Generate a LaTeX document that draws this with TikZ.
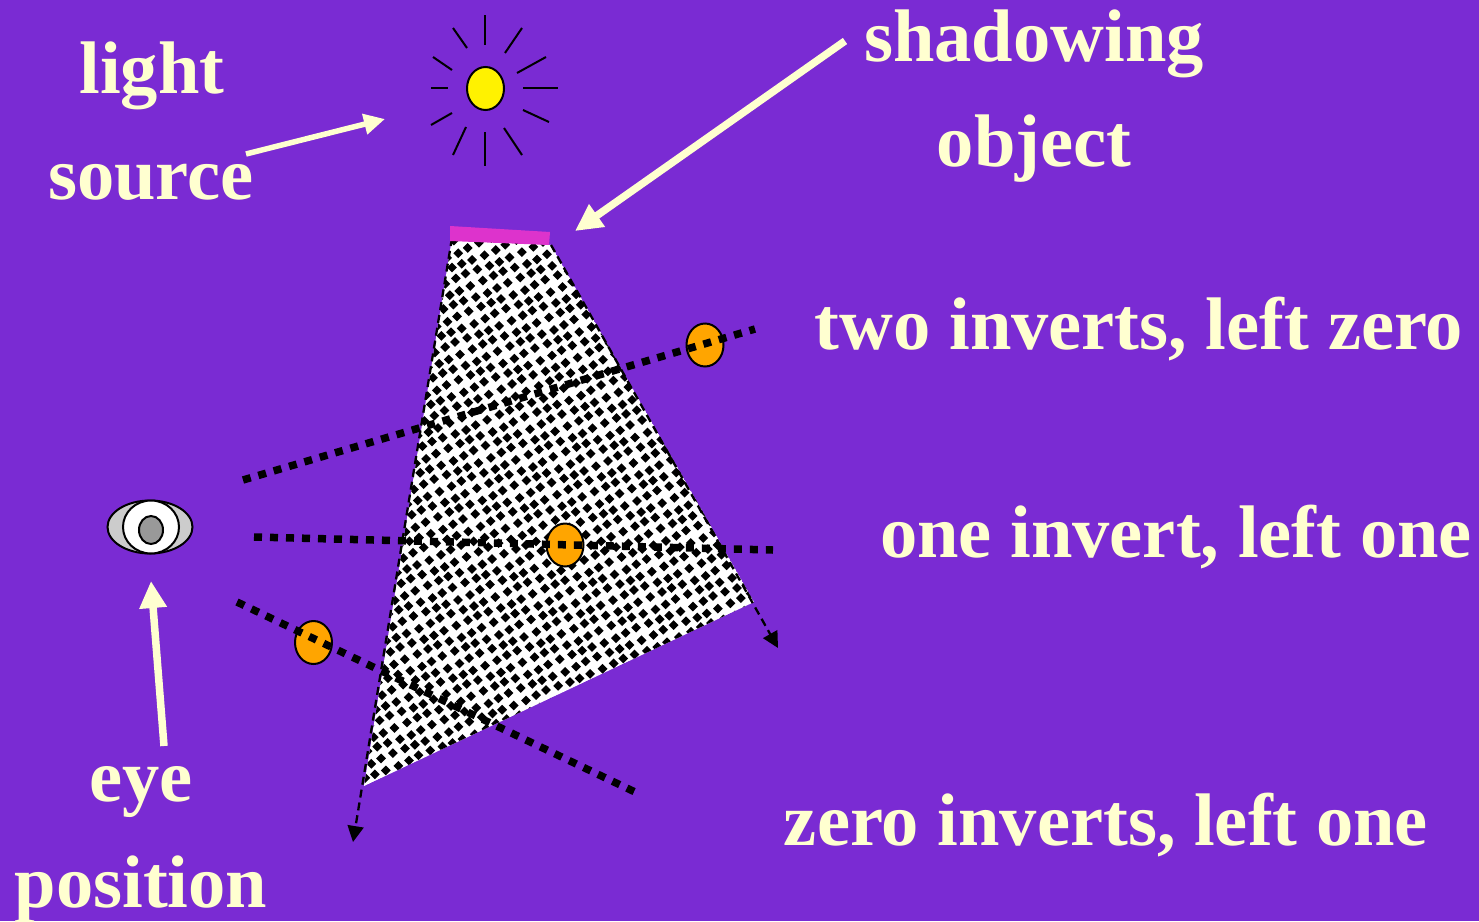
\documentclass[tikz,border=0pt]{standalone}
\usepackage{fontspec}
\setmainfont{Liberation Serif}
\usetikzlibrary{arrows.meta,shapes.geometric}
\definecolor{bgc}{HTML}{7A2BD3}
\definecolor{cream}{HTML}{FFFFD0}
\definecolor{orangeb}{HTML}{FFA500}
\definecolor{magb}{HTML}{DD33CC}
\tikzset{
 lab/.style={text=cream,font=\fontsize{74.5}{75}\selectfont\bfseries,inner sep=0pt,anchor=base},
 callout/.style={draw=cream,line width=7.5pt,-{Triangle[length=27pt,width=26pt]}},
 smallcallout/.style={draw=cream,line width=5.5pt,-{Triangle[length=21pt,width=20pt]}},
 dotted ray/.style={draw=black,line width=7.5pt,dash pattern=on 8pt off 8pt},
 dash edge/.style={draw=black,line width=2.3pt,dash pattern=on 8pt off 5pt,-{Triangle[length=16pt,width=16pt]}},
 ball/.style={draw=black,line width=2pt,fill=orangeb,ellipse,minimum width=37pt,minimum height=43pt,inner sep=0pt},
 sunray/.style={draw=black,line width=2pt},
 eyepart/.style={draw=black,line width=2pt,ellipse,inner sep=0pt},
}
\begin{document}
\begin{tikzpicture}[x=1pt,y=-1pt]
\useasboundingbox[fill=bgc] (0,0) rectangle (1479,921);
% shadow volume
\coordinate (q1) at (452,238);
\coordinate (q2) at (551,245);
\coordinate (q3) at (754,602);
\coordinate (q4) at (364,786);
\coordinate (e1) at (353,842);
\coordinate (e2) at (778,648);
\begin{scope}
 \clip (q1)--(q2)--(q3)--(q4)--cycle;
 \fill[white] (q1)--(q2)--(q3)--(q4)--cycle;
 \foreach \i in {-40,...,40}{
  \foreach \j in {-38,...,38}{
   \pgfmathsetmacro{\cx}{550+\i*11+\j*4.5+1.0*sin(\i*97+\j*61)}
   \pgfmathsetmacro{\cy}{510-\i*4.5+\j*11+1.0*sin(\i*53-\j*113)}
   \pgfmathparse{(\cx>350&&\cx<770&&\cy>225&&\cy<800)?1:0}
   \ifnum\pgfmathresult=1
   \fill[black] (\cx-4.9,\cy) -- (\cx,\cy-4.9) -- (\cx+4.9,\cy) -- (\cx,\cy+4.9) -- cycle;
   \fi
  }
 }
\end{scope}
\draw[dash edge] (q1) -- (e1);
\draw[dash edge] (q2) -- (e2);
\fill[magb] (450,226) -- (550,232) -- (549,245) -- (450,241) -- cycle;
% sun
\node[eyepart,fill=yellow,minimum width=37pt,minimum height=43pt] (sun) at (485.5,88.5) {};
\foreach \a/\b/\c/\d in {485/15/485/45, 453/28/467/48, 522/28/505/53, 433/57/452/70, 546/57/517/73, 431/88/448/88, 523/88/558/88, 431/125/452/113, 523/110/549/122, 453/155/466/127, 504/128/522/155, 485/132/485/166}
 \draw[sunray] (\a,\b) -- (\c,\d);
% eye
\node[eyepart,fill=black!20,minimum width=85pt,minimum height=53pt] (eye) at (150,527) {};
\node[eyepart,fill=white,minimum width=56pt,minimum height=53pt] (eyew) at (151,527) {};
\node[eyepart,fill=black!40,minimum width=24pt,minimum height=28pt] (pupil) at (151,530) {};
% balls
\node[ball] (b1) at (705,345) {};
\node[ball] (b2) at (565,545) {};
\node[ball] (b3) at (313.5,642.5) {};
% rays
\coordinate (r1a) at (243,480);
\coordinate (r1b) at (755,329);
\coordinate (r2a) at (254,537);
\coordinate (r2b) at (773,550);
\coordinate (r3a) at (237,602);
\coordinate (r3b) at (635,792);
\draw[dotted ray] (r1a) -- (r1b);
\draw[dotted ray] (r2a) -- (r2b);
\draw[dotted ray] (r3a) -- (r3b);
% labels
\node[lab] (t1) at (152,93.5) {light};
\node[lab] (t2) at (151,199.5) {source};
\node[lab] (t3) at (1034,61.5) {shadowing};
\node[lab] (t4) at (1034,166.5) {object};
\node[lab] (t5) at (1139,349.5) {two inverts, left zero};
\node[lab] (t6) at (1176,557.5) {one invert, left one};
\node[lab] (t7) at (1106,845.5) {zero inverts, left one};
\node[lab] (t8) at (141,801.5) {eye};
\node[lab] (t9) at (141,907.5) {position};
% callouts
\coordinate (c1a) at (246,154);
\coordinate (c1b) at (385,119);
\coordinate (c2a) at (845,41);
\coordinate (c2b) at (575,231);
\coordinate (c3a) at (164,746);
\coordinate (c3b) at (151,581);
\draw[smallcallout] (c1a) -- (c1b);
\draw[callout] (c2a) -- (c2b);
\draw[callout] (c3a) -- (c3b);
\end{tikzpicture}
\end{document}
